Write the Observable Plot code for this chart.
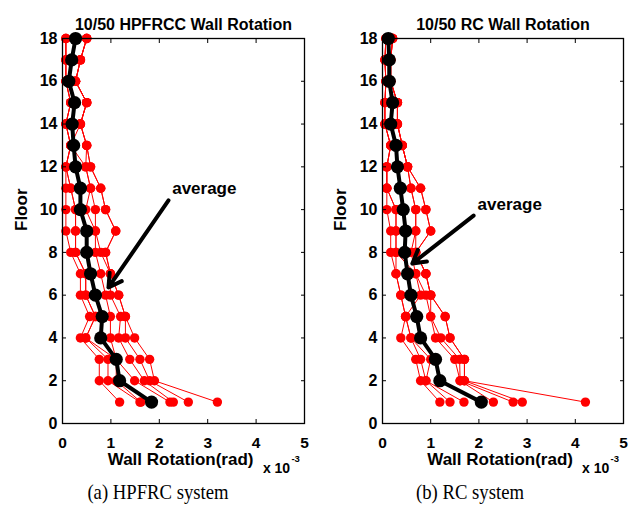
<!DOCTYPE html>
<html>
<head>
<meta charset="utf-8">
<script src="https://cdn.jsdelivr.net/npm/d3@7"></script>
<script src="https://cdn.jsdelivr.net/npm/@observablehq/plot@0.6"></script>
<style>
  body { margin: 0; background: #fff; }
  #wrap { position: relative; width: 631px; height: 515px; overflow: hidden; }
  #plots { display: flex; flex-direction: row; }
  .cap { position: absolute; top: 480px; font-family: "Liberation Serif", "Times New Roman", serif; font-size: 21px; color: #000; transform: translateX(-50%) scaleX(0.89); white-space: nowrap; }
  #plots g[aria-label="x-axis tick label"] { font-size: 15.5px; font-weight: bold; }
  #plots g[aria-label="y-axis tick label"] { font-size: 16px; font-weight: bold; }
</style>
</head>
<body>
<div id="wrap">
  <div id="plots"></div>
  <div class="cap" style="left:158px">(a) HPFRC system</div>
  <div class="cap" style="left:470px">(b) RC system</div>
</div>
<script>
const floors = [1,2,3,4,5,6,7,8,9,10,11,12,13,14,15,16,17,18];
const yTicks = [0,2,4,6,8,10,12,14,16,18];
const xTicks = [0,1,2,3,4,5];

// HPFRCC wall rotation (x 10^-3 rad), individual ground motions, floors 1..18
const hp1 = [1.18,0.76,0.76,0.37,0.56,0.37,0.37,0.17,0.07,0.07,0.07,0.07,0.17,0.07,0.17,0.07,0.07,0.07];
const hp2 = [1.60,0.94,0.94,0.48,0.68,0.48,0.48,0.27,0.27,0.27,0.17,0.07,0.17,0.07,0.17,0.07,0.07,0.07];
const hp3 = [1.62,1.11,1.11,0.48,0.68,0.48,0.48,0.27,0.27,0.27,0.17,0.07,0.17,0.07,0.17,0.07,0.07,0.07];
const hp4 = [2.22,1.49,1.11,0.99,0.99,0.89,0.79,0.68,0.68,0.48,0.58,0.48,0.17,0.37,0.50,0.27,0.37,0.50];
const hp5 = [2.29,1.69,1.39,1.16,1.20,0.99,0.99,0.79,0.68,0.68,0.58,0.48,0.50,0.37,0.50,0.27,0.37,0.50];
const hp6 = [2.60,1.80,1.60,1.30,1.30,1.16,0.99,0.89,1.10,0.89,0.79,0.58,0.50,0.37,0.50,0.27,0.37,0.50];
const hp7 = [3.20,1.90,1.80,1.49,1.30,1.16,0.99,0.89,1.10,0.89,0.79,0.58,0.50,0.37,0.50,0.27,0.37,0.50];
const hpAvg = [1.84,1.18,1.11,0.79,0.82,0.68,0.58,0.50,0.50,0.37,0.37,0.27,0.23,0.20,0.25,0.13,0.19,0.27];

// RC wall rotation
const rc1 = [1.19,0.79,0.69,0.38,0.48,0.38,0.28,0.17,0.17,0.09,0.09,0.09,0.17,0.05,0.05,0.07,0.05,0.07];
const rc2 = [1.40,0.90,0.79,0.59,0.48,0.38,0.28,0.28,0.28,0.28,0.09,0.09,0.17,0.05,0.05,0.07,0.05,0.07];
const rc3 = [1.69,0.90,1.00,0.59,0.48,0.79,0.69,0.28,0.28,0.28,0.09,0.09,0.17,0.05,0.05,0.07,0.05,0.07];
const rc4 = [2.30,1.61,1.50,1.10,1.00,0.90,0.69,0.59,0.69,0.69,0.59,0.52,0.41,0.31,0.31,0.17,0.17,0.21];
const rc5 = [2.71,1.61,1.60,1.21,1.00,1.00,0.90,0.69,0.69,0.69,0.59,0.52,0.41,0.31,0.31,0.17,0.17,0.21];
const rc6 = [2.90,1.70,1.70,1.40,1.30,1.00,0.90,0.69,1.00,0.90,0.79,0.52,0.41,0.31,0.31,0.17,0.17,0.21];
const rc7 = [4.21,1.70,1.70,1.40,1.30,1.00,0.90,0.69,1.00,0.90,0.79,0.52,0.41,0.31,0.31,0.17,0.17,0.21];
const rcAvg = [2.05,1.19,1.10,0.79,0.71,0.59,0.52,0.46,0.48,0.43,0.37,0.31,0.28,0.17,0.21,0.14,0.14,0.12];

const panels = [
  {title: "10/50 HPFRCC Wall Rotation", runs: [hp1,hp2,hp3,hp4,hp5,hp6,hp7], avg: hpAvg,
   width: 315, ml: 62, mr: 11, floorDx: -40.5, note: {x: 2.93, y: 11.0}, arrow: {x1: 2.19, y1: 10.43, x2: 0.95, y2: 6.36}},
  {title: "10/50 RC Wall Rotation", runs: [rc1,rc2,rc3,rc4,rc5,rc6,rc7], avg: rcAvg,
   width: 316, ml: 67, mr: 8, floorDx: -42, note: {x: 2.64, y: 10.24}, arrow: {x1: 1.89, y1: 9.72, x2: 0.62, y2: 7.48}}
];

const font = "'Liberation Sans', Arial, sans-serif";

for (const p of panels) {
  const runRows = p.runs.flatMap((r, i) => r.map((v, k) => ({run: i, floor: floors[k], rot: v})));
  const avgRows = p.avg.map((v, k) => ({floor: floors[k], rot: v}));
  const chart = Plot.plot({
    width: p.width,
    height: 455,
    marginLeft: p.ml,
    marginRight: p.mr,
    marginTop: 38,
    marginBottom: 32,
    style: {fontFamily: font, fontWeight: "bold", fontSize: "15px", color: "#000", background: "#fff", overflow: "visible"},
    x: {domain: [0, 5]},
    y: {domain: [0, 18]},
    marks: [
      Plot.line(runRows, {x: "rot", y: "floor", z: "run", stroke: "#ff0000", strokeWidth: 1}),
      Plot.dot(runRows, {x: "rot", y: "floor", r: 4.7, fill: "#ff0000"}),
      Plot.line(avgRows, {x: "rot", y: "floor", stroke: "#000", strokeWidth: 4}),
      Plot.dot(avgRows, {x: "rot", y: "floor", r: 6.6, fill: "#000"}),
      Plot.frame({stroke: "#000", strokeWidth: 1.3}),
      Plot.axisX({ticks: xTicks, tickFormat: d => String(d), anchor: "bottom", tickSize: -4, tickPadding: 17, label: null, fontSize: 15.5, fontWeight: "bold"}),
      Plot.axisX({ticks: xTicks, anchor: "top", tickSize: -4, tickFormat: () => "", label: null}),
      Plot.axisY({ticks: yTicks, tickFormat: d => String(d), anchor: "left", tickSize: -4, tickPadding: 9, label: null, fontSize: 16, fontWeight: "bold"}),
      Plot.axisY({ticks: yTicks, anchor: "right", tickSize: -4, tickFormat: () => "", label: null}),
      Plot.arrow([p.arrow], {x1: "x1", y1: "y1", x2: "x2", y2: "y2", stroke: "#000", strokeWidth: 4, headLength: 5.5, headAngle: 60}),
      Plot.text([p.note], {x: "x", y: "y", text: () => "average", fontSize: 17, fontWeight: "bold", fill: "#000"}),
      Plot.text([p], {x: () => 2.5, frameAnchor: "top", dy: -20, text: d => d.title, fontSize: 16, fontWeight: "bold", fill: "#000"}),
      Plot.text(["Floor"], {frameAnchor: "left", dx: p.floorDx, rotate: -90, text: d => d, fontSize: 17, fontWeight: "bold", fill: "#000"}),
      Plot.text(["Wall Rotation(rad)"], {x: () => 2.44, frameAnchor: "bottom", dy: 41, text: d => d, fontSize: 17, fontWeight: "bold", fill: "#000"}),
      Plot.text(["x 10"], {x: () => 4.14, frameAnchor: "bottom", dy: 49, textAnchor: "start", text: d => d, fontSize: 14, fontWeight: "bold", fill: "#000"}),
      Plot.text(["-3"], {x: () => 4.73, frameAnchor: "bottom", dy: 38, textAnchor: "start", text: d => d, fontSize: 9.5, fontWeight: "bold", fill: "#000"})
    ]
  });
  document.getElementById("plots").appendChild(chart);
}
</script>
</body>
</html>
